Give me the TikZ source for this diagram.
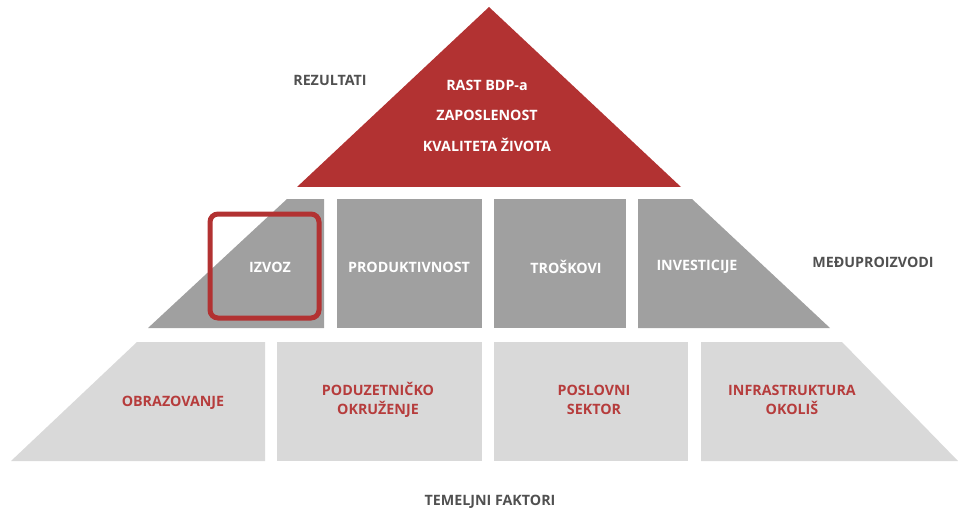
\documentclass[tikz,border=0pt]{standalone}
\usepackage{fontspec}
\setmainfont{Open Sans}
\usetikzlibrary{positioning}
\begin{document}
\begin{tikzpicture}[x=0.75pt,y=-0.75pt]
  \tikzset{
    txt/.style={font=\bfseries\fontsize{10.7}{14.2}\selectfont,align=center,inner sep=0pt},
    lbl/.style={txt,text=labelgray},
    lvl/.style={txt,text=white},
    base/.style={txt,text=darkred!95},
  }
  \definecolor{darkred}{RGB}{178,50,50};
  \definecolor{midgray}{RGB}{160,160,160};
  \definecolor{lightgray}{RGB}{217,217,217};
  \definecolor{labelgray}{RGB}{80,80,80};
  \useasboundingbox (0,0) rectangle (958,510);
  % results
  \fill[darkred] (297,187) -- (489,7) -- (681,187) -- cycle;
  % intermediate level
  \fill[midgray] (148,328) -- (287,199) -- (324,199) -- (324,328) -- cycle;
  \foreach \a/\b in {337/482, 494/626} {
    \fill[midgray] (\a,199) rectangle (\b,328);
  }
  \fill[midgray] (638,328) -- (638,199) -- (692,199) -- (830,328) -- cycle;
  % foundations
  \fill[lightgray] (11,461) -- (137,342) -- (265,342) -- (265,461) -- cycle;
  \foreach \a/\b in {277/482, 494/688} {
    \fill[lightgray] (\a,342) rectangle (\b,461);
  }
  \fill[lightgray] (701,461) -- (701,342) -- (842,342) -- (958,461) -- cycle;
  % highlight
  \draw[darkred,line width=3.75pt,rounded corners=6pt] (210,214) rectangle (319,318);
  \node[lvl] (rast) at (487,85) {RAST BDP-a};
  \node[lvl] (zap) at (487,115) {ZAPOSLENOST};
  \node[lvl] (kval) at (487,145) {KVALITETA ŽIVOTA};
  \node[lvl] (izvoz) at (270,267) {IZVOZ};
  \node[lvl] (prod) at (409,267) {PRODUKTIVNOST};
  \node[lvl] (tros) at (566,267) {TROŠKOVI};
  \node[lvl] (inv) at (697,267) {INVESTICIJE};
  \node[base] (obr) at (173,403) {OBRAZOVANJE};
  \node[base] (pod) at (378,400) {PODUZETNIČKO\\OKRUŽENJE};
  \node[base] (posl) at (594,400) {POSLOVNI\\SEKTOR};
  \node[base] (infra) at (792,400) {INFRASTRUKTURA\\OKOLIŠ};
  \node[lbl] (rez) at (330,80) {REZULTATI};
  \node[lbl] (medu) at (873,262) {MEĐUPROIZVODI};
  \node[lbl] (tem) at (490,502) {TEMELJNI FAKTORI};
\end{tikzpicture}
\end{document}
